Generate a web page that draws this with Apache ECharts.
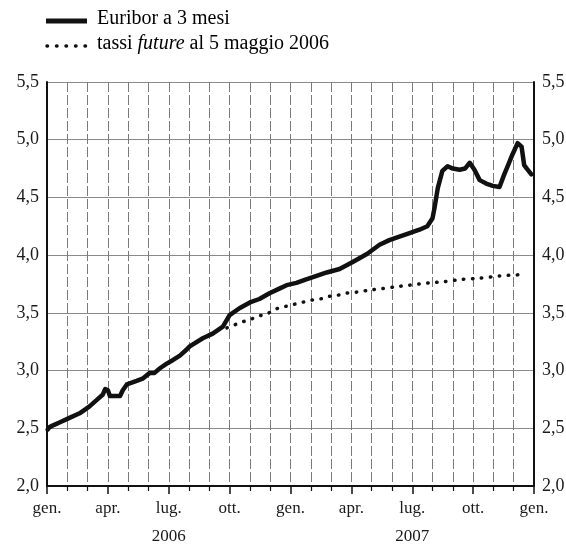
<!DOCTYPE html>
<html>
<head>
<meta charset="utf-8">
<title>Euribor a 3 mesi</title>
<script src="https://cdn.jsdelivr.net/npm/echarts@6/dist/echarts.min.js"></script>
<style>
  html, body { margin: 0; padding: 0; background: #fff; }
  #chart { width: 566px; height: 547px; }
</style>
</head>
<body>
<div id="chart"></div>
<script>
// Euribor a 3 mesi
const euriborDates = [
  '2006-01-02', '2006-01-05', '2006-01-12', '2006-01-20', '2006-02-04', '2006-02-18',
  '2006-03-04', '2006-03-16', '2006-03-24', '2006-03-28', '2006-04-01', '2006-04-04',
  '2006-04-19', '2006-04-23', '2006-04-29', '2006-05-14', '2006-05-23', '2006-06-03',
  '2006-06-10', '2006-06-18', '2006-06-28', '2006-07-07', '2006-07-18', '2006-07-28',
  '2006-08-02', '2006-08-22', '2006-09-06', '2006-09-21', '2006-10-01', '2006-10-16',
  '2006-11-01', '2006-11-15', '2006-11-30', '2006-12-15', '2006-12-26', '2007-01-10',
  '2007-01-25', '2007-02-09', '2007-02-23', '2007-03-14', '2007-04-03', '2007-04-24',
  '2007-05-13', '2007-05-28', '2007-06-12', '2007-06-27', '2007-07-12', '2007-07-24',
  '2007-08-01', '2007-08-04', '2007-08-09', '2007-08-16', '2007-08-24', '2007-09-01',
  '2007-09-11', '2007-09-19', '2007-09-26', '2007-10-03', '2007-10-11', '2007-10-21',
  '2007-10-31', '2007-11-10', '2007-11-17', '2007-11-22', '2007-11-29', '2007-12-07',
  '2007-12-13', '2007-12-17', '2007-12-21', '2007-12-28'
];
const euriborValues = [
  2.49, 2.51, 2.53, 2.55, 2.59, 2.63,
  2.69, 2.75, 2.79, 2.84, 2.83, 2.78,
  2.78, 2.83, 2.88, 2.91, 2.93, 2.98,
  2.98, 3.02, 3.06, 3.09, 3.13, 3.18,
  3.21, 3.28, 3.32, 3.38, 3.48, 3.54,
  3.59, 3.62, 3.67, 3.71, 3.74, 3.76,
  3.79, 3.82, 3.85, 3.88, 3.94, 4.01,
  4.09, 4.13, 4.16, 4.19, 4.22, 4.25,
  4.32, 4.41, 4.58, 4.73, 4.77, 4.75,
  4.74, 4.75, 4.80, 4.74, 4.65, 4.62,
  4.60, 4.59, 4.70, 4.77, 4.87, 4.97,
  4.94, 4.78, 4.75, 4.70
];

// tassi future al 5 maggio 2006
const futureDates = [
  '2006-09-27', '2006-10-06', '2006-10-19', '2006-11-01', '2006-11-12', '2006-11-26',
  '2006-12-08', '2006-12-20', '2007-01-04', '2007-01-18', '2007-02-02', '2007-02-14',
  '2007-02-24', '2007-03-09', '2007-03-24', '2007-04-09', '2007-05-01', '2007-05-17',
  '2007-06-12', '2007-06-27', '2007-07-12', '2007-07-27', '2007-08-19', '2007-09-15',
  '2007-10-11', '2007-11-10', '2007-12-10'
];
const futureValues = [
  3.37, 3.39, 3.42, 3.44, 3.47, 3.49,
  3.53, 3.55, 3.57, 3.59, 3.61, 3.62,
  3.64, 3.65, 3.67, 3.68, 3.70, 3.71,
  3.73, 3.74, 3.75, 3.76, 3.77, 3.79,
  3.80, 3.82, 3.83
];

// etichette dell'asse orizzontale (una ogni trimestre)
const quarterLabels = ['gen.', 'apr.', 'lug.', 'ott.', 'gen.', 'apr.', 'lug.', 'ott.', 'gen.'];
const yearLabels = ['', '', '2006', '', '', '', '2007', '', ''];

const serif = '"Liberation Serif", "Times New Roman", serif';
const ink = '#1a1a1a';

// data -> mesi trascorsi da gennaio 2006
function toMonth(d) {
  const p = d.split('-').map(Number);
  const days = new Date(p[0], p[1], 0).getDate();
  return (p[0] - 2006) * 12 + (p[1] - 1) + (p[2] - 1) / days;
}

const euribor = euriborDates.map((d, i) => [toMonth(d), euriborValues[i]]);
const future = futureDates.map((d, i) => [toMonth(d), futureValues[i]]);

const yLabel = v => v.toFixed(1).replace('.', ',');

const yAxisBase = {
  type: 'value',
  min: 2,
  max: 5.5,
  interval: 0.5,
  axisLine: { show: true, lineStyle: { color: '#111', width: 2 } },
  axisTick: { show: false },
  axisLabel: { color: ink, fontFamily: serif, fontSize: 18, formatter: yLabel }
};

const legendRich = {
  n: { fontFamily: serif, fontSize: 20, color: ink },
  i: { fontFamily: serif, fontSize: 20, fontStyle: 'italic', color: ink }
};

const myChart = echarts.init(document.getElementById('chart'), null, { renderer: 'canvas' });
const option = {
  animation: false,
  backgroundColor: '#fff',
  // legenda disegnata a mano (linea piena e puntinata)
  graphic: [
    {
      type: 'line',
      shape: { x1: 46, y1: 21, x2: 87, y2: 21 },
      style: { stroke: '#111', lineWidth: 5 }
    },
    {
      type: 'text',
      left: 97,
      top: 9,
      style: { text: '{n|Euribor a 3 mesi}', rich: legendRich }
    },
    {
      type: 'line',
      shape: { x1: 47, y1: 46, x2: 87, y2: 46 },
      style: { stroke: '#111', lineWidth: 3.5, lineDash: [0.5, 9], lineCap: 'round' }
    },
    {
      type: 'text',
      left: 97,
      top: 34,
      style: { text: '{n|tassi }{i|future}{n| al 5 maggio 2006}', rich: legendRich }
    }
  ],
  grid: { left: 47, right: 32, top: 82, bottom: 61, outerBoundsMode: 'none' },
  xAxis: {
    type: 'value',
    min: 0,
    max: 24,
    interval: 3,
    axisLine: { show: true, onZero: false, lineStyle: { color: '#111', width: 2 } },
    axisTick: { show: true, length: 8, lineStyle: { color: '#111', width: 1.5 } },
    minorTick: { show: true, splitNumber: 3, length: 5, lineStyle: { color: '#111', width: 1.2 } },
    splitLine: { show: true, lineStyle: { color: '#7a7a7a', width: 1, type: [10, 3] } },
    minorSplitLine: { show: true, lineStyle: { color: '#7a7a7a', width: 1, type: [10, 3] } },
    axisLabel: {
      color: ink,
      fontFamily: serif,
      fontSize: 17,
      lineHeight: 28,
      margin: 9,
      formatter: v => {
        const k = Math.round(v / 3);
        return quarterLabels[k] + (yearLabels[k] ? '\n' + yearLabels[k] : '');
      }
    }
  },
  yAxis: [
    Object.assign({}, yAxisBase, {
      position: 'left',
      splitLine: { show: true, lineStyle: { color: '#8a8a8a', width: 1.2 } }
    }),
    Object.assign({}, yAxisBase, {
      position: 'right',
      splitLine: { show: false }
    })
  ],
  series: [
    {
      name: 'Euribor a 3 mesi',
      type: 'line',
      data: euribor,
      symbol: 'none',
      lineStyle: { color: '#111', width: 4.5, join: 'round', cap: 'round' },
      z: 3
    },
    {
      name: 'tassi future al 5 maggio 2006',
      type: 'line',
      data: future,
      symbol: 'none',
      smooth: 0.3,
      lineStyle: { color: '#111', width: 3.5, type: [0.5, 8.5], cap: 'round' },
      z: 2
    }
  ]
};
myChart.setOption(option);
</script>
</body>
</html>
